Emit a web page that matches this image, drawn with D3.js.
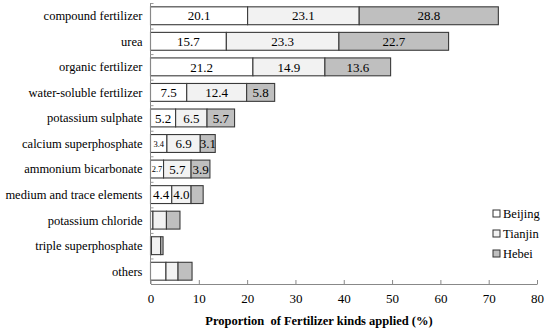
<!DOCTYPE html>
<html>
<head>
<meta charset="utf-8">
<script src="https://cdn.jsdelivr.net/npm/d3@7"></script>
<style>
  body { margin: 0; background: #fff; }
</style>
</head>
<body>
<div id="chart"></div>
<script>
// categories, top to bottom
var categories = ["compound fertilizer", "urea", "organic fertilizer", "water-soluble fertilizer",
    "potassium sulphate", "calcium superphosphate", "ammonium bicarbonate",
    "medium and trace elements", "potassium chloride", "triple superphosphate", "others"];

var seriesNames = ["Beijing", "Tianjin", "Hebei"];

// proportions (%) per region
var beijing = [20.1, 15.7, 21.2, 7.5, 5.2, 3.4, 2.7, 4.4, 0.5, 0.2, 3.2];
var tianjin = [23.1, 23.3, 14.9, 12.4, 6.5, 6.9, 5.7, 4.0, 2.8, 1.9, 2.5];
var hebei   = [28.8, 22.7, 13.6, 5.8, 5.7, 3.1, 3.9, 2.5, 2.8, 0.5, 2.9];

// how many segments carry a value label in each row
var labelCount = [3, 3, 3, 3, 3, 3, 3, 2, 0, 0, 0];

var xTicks = [0, 10, 20, 30, 40, 50, 60, 70, 80];

var colors = ["#ffffff", "#f2f2f2", "#bfbfbf"];

var serif = "'Liberation Serif', 'Times New Roman', Times, 'DejaVu Serif', serif";

var width = 550, height = 332;
var margin = { top: 3, right: 13, bottom: 48, left: 150.5 };
var innerW = width - margin.left - margin.right;
var innerH = height - margin.top - margin.bottom;

var svg = d3.select("#chart").append("svg")
    .attr("width", width)
    .attr("height", height)
    .style("font-family", serif);

var g = svg.append("g")
    .attr("transform", "translate(" + margin.left + "," + margin.top + ")");

var xScale = d3.scaleLinear().domain([0, 80]).range([0, innerW]);
var yScale = d3.scaleBand().domain(categories).range([0, innerH]).paddingInner(0.3).paddingOuter(0.15);

// build stacked rows
var rows = categories.map(function(c, i) {
    return { cat: c, Beijing: beijing[i], Tianjin: tianjin[i], Hebei: hebei[i] };
});
var stacked = d3.stack().keys(seriesNames)(rows);

// bars
stacked.forEach(function(layer, si) {
    g.selectAll(".bar" + si)
        .data(layer)
        .enter()
        .append("rect")
        .attr("x", d => xScale(d[0]))
        .attr("y", d => yScale(d.data.cat))
        .attr("width", d => xScale(d[1]) - xScale(d[0]))
        .attr("height", yScale.bandwidth())
        .attr("fill", colors[si])
        .attr("stroke", "#3a3a3a")
        .attr("stroke-width", 1.1);

    g.selectAll(".lab" + si)
        .data(layer.filter((d, i) => si < labelCount[i]))
        .enter()
        .append("text")
        .attr("x", d => (xScale(d[0]) + xScale(d[1])) / 2)
        .attr("y", d => yScale(d.data.cat) + yScale.bandwidth() / 2)
        .attr("dy", "0.36em")
        .attr("text-anchor", "middle")
        .style("font-family", serif)
        .style("font-size", d => (d[1] - d[0] < 3.5 && si == 0) ? "8.5px" : "13px")
        .text(d => (d[1] - d[0]).toFixed(1));
});

// y axis line with ticks at band boundaries
var step = yScale.step();
g.append("line")
    .attr("x1", 0).attr("x2", 0)
    .attr("y1", 0).attr("y2", innerH)
    .attr("stroke", "#888").attr("stroke-width", 1);

g.selectAll(".ytick")
    .data(categories)
    .enter()
    .append("line")
    .attr("x1", 0).attr("x2", 3)
    .attr("y1", (d, i) => i * step + 0.5)
    .attr("y2", (d, i) => i * step + 0.5)
    .attr("stroke", "#999");

g.selectAll(".ylab")
    .data(categories)
    .enter()
    .append("text")
    .attr("x", -8)
    .attr("y", d => yScale(d) + yScale.bandwidth() / 2)
    .attr("dy", "0.35em")
    .attr("text-anchor", "end")
    .style("font-family", serif)
    .style("font-size", "12.5px")
    .text(d => d);

// x axis
var xAxis = g.append("g")
    .attr("transform", "translate(0," + innerH + ")")
    .call(d3.axisBottom(xScale).tickValues(xTicks).tickSizeInner(-4).tickSizeOuter(0).tickPadding(10));
xAxis.attr("font-family", null);
xAxis.select(".domain").attr("stroke", "#888");
xAxis.selectAll(".tick line").attr("stroke", "#888");
xAxis.selectAll(".tick text")
    .style("font-family", serif)
    .style("font-size", "13px");

// axis title
svg.append("text")
    .attr("x", 319)
    .attr("y", 325)
    .attr("text-anchor", "middle")
    .style("font-family", serif)
    .style("font-size", "12.5px")
    .style("font-weight", "bold")
    .style("white-space", "pre")
    .text("Proportion  of Fertilizer kinds applied (%)");

// legend
var legend = svg.append("g").attr("transform", "translate(493,210)");
seriesNames.forEach(function(s, i) {
    legend.append("rect")
        .attr("x", 0).attr("y", i * 20)
        .attr("width", 7).attr("height", 7)
        .attr("fill", colors[i])
        .attr("stroke", "#333");
    legend.append("text")
        .attr("x", 10).attr("y", i * 20 + 4)
        .attr("dy", "0.35em")
        .style("font-family", serif)
        .style("font-size", "12.5px")
        .text(s);
});
</script>
</body>
</html>
